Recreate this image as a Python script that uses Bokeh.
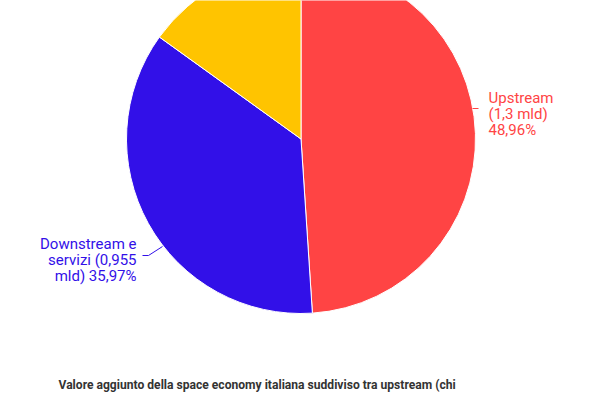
from bokeh.plotting import figure
from bokeh.models import ColumnDataSource, Range1d
from bokeh.core.properties import value
from bokeh.embed import file_html
from bokeh.resources import INLINE
import numpy as np

# dati della torta
categorie = ["Upstream", "Downstream e servizi", "Altro"]
quote = [48.96, 35.97, 15.07]
colori = ["#ff4444", "#3210e8", "#ffc400"]
etichette = [
    ["Upstream", "(1,3 mld)", "48,96%"],
    ["Downstream e", "servizi (0,955", "mld) 35,97%"],
]
titolo = "Valore aggiunto della space economy italiana suddiviso tra upstream (chi"

# coordinate in pixel dell'immagine
W, H = 592, 392
p = figure(width=W, height=H, x_range=Range1d(0, W), y_range=Range1d(-H, 0),
           output_backend="svg", toolbar_location=None, min_border=0)
p.axis.visible = False
p.grid.visible = False
p.outline_line_color = None

# angoli (senso orario partendo dalle 12)
frazioni = np.array(quote) / sum(quote)
cum = np.cumsum(frazioni)
inizio = np.pi / 2 - np.concatenate([[0], cum[:-1]]) * 2 * np.pi
fine = np.pi / 2 - cum * 2 * np.pi

cx, cy, r = 300.5, -138.5, 174.5
src = ColumnDataSource(dict(start=inizio, end=fine, color=colori, cat=categorie))
p.wedge(x=cx, y=cy, radius=r, start_angle="start", end_angle="end", direction="clock",
        fill_color="color", line_color="white", line_width=1, source=src)

# linee di richiamo
p.line([472, 478], [-108, -108], line_color=colori[0], line_width=1)
p.line([142, 148, 162], [-255, -255, -246], line_color=colori[1], line_width=1)

# etichette
font = value("Roboto")
for i, riga in enumerate(etichette[0]):
    p.text(x=[488], y=[-97 - 16 * i], text=[riga], text_color=colori[0], text_font=font,
           text_font_size="15px", text_align="left", text_baseline="alphabetic")
for i, riga in enumerate(etichette[1]):
    p.text(x=[136], y=[-243 - 16 * i], text=[riga], text_color=colori[1], text_font=font,
           text_font_size="15px", text_align="right", text_baseline="alphabetic")

# titolo
p.text(x=[58], y=[-377], text=[titolo], text_color="#333333", text_font=font,
       text_font_size="12.1px", text_font_style="bold", text_align="left", text_baseline="top")

open("out.html", "w").write(file_html(p, INLINE))
